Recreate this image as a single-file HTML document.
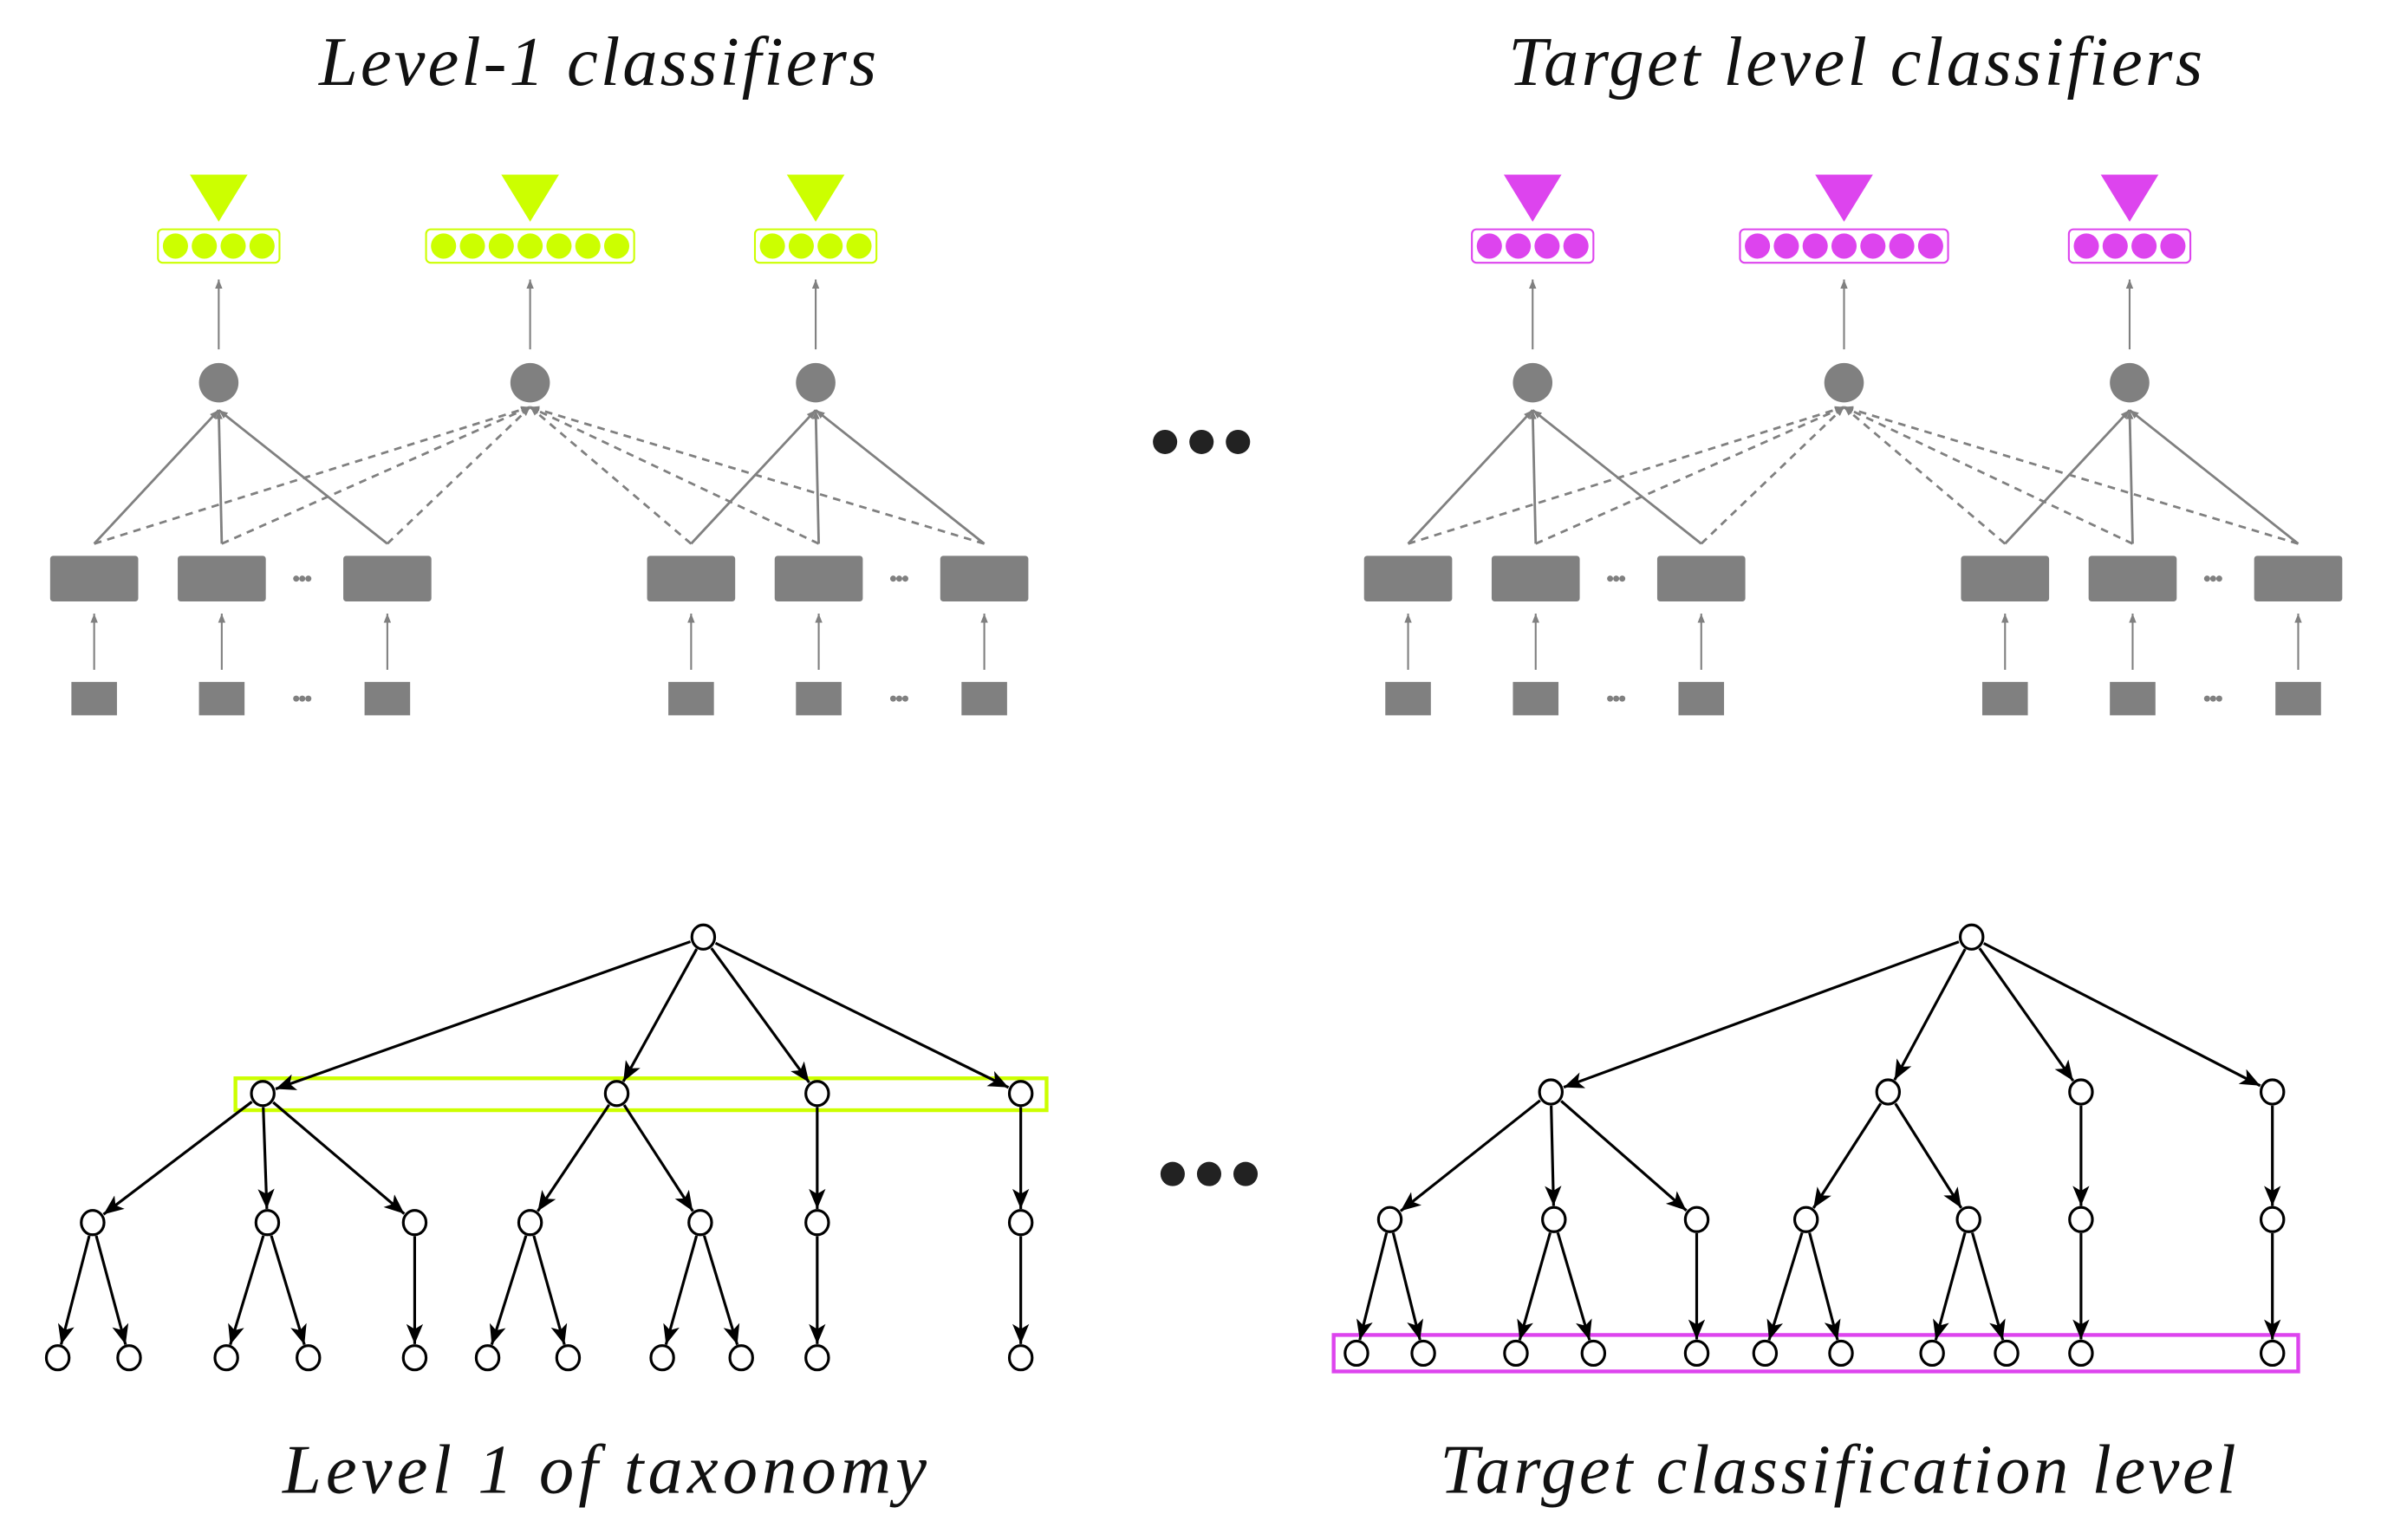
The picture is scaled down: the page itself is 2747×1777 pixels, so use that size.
<!DOCTYPE html>
<html><head><meta charset="utf-8">
<style>html,body{margin:0;padding:0;background:#fff;overflow:hidden}svg{display:block}
text{font-family:"Liberation Serif",serif;font-style:italic;fill:#111}</style></head>
<body>
<svg id="s" xmlns="http://www.w3.org/2000/svg" width="2747" height="1777" viewBox="0 0 1567.5 1014" preserveAspectRatio="none">
<defs>
<marker id="ga" viewBox="0 0 10 10" refX="10" refY="5" markerWidth="6" markerHeight="6" orient="auto" markerUnits="userSpaceOnUse"><path d="M0,1 L10,5 L0,9 z" fill="#808080"/></marker>
<marker id="ba" viewBox="0 0 12 10" refX="12" refY="5" markerWidth="14" markerHeight="11" orient="auto" markerUnits="userSpaceOnUse"><path d="M0,0 L12,5 L0,10 L3,5 z" fill="#000"/></marker>
</defs>
<text x="210" y="56" font-size="46" textLength="367" lengthAdjust="spacing">Level-1 classifiers</text>
<text x="993" y="56" font-size="46" textLength="457" lengthAdjust="spacing">Target level classifiers</text>
<text x="186" y="983" font-size="46" textLength="424" lengthAdjust="spacing">Level 1 of taxonomy</text>
<text x="948" y="983" font-size="46" textLength="524" lengthAdjust="spacing">Target classification level</text>
<g fill="#222"><circle cx="767" cy="291" r="8"/><circle cx="791" cy="291" r="8"/><circle cx="815" cy="291" r="8"/>
<circle cx="772" cy="773" r="8"/><circle cx="796" cy="773" r="8"/><circle cx="820" cy="773" r="8"/></g>
<g id="g"></g>
</svg>
<script>
var g=document.getElementById('g'),NS='http://www.w3.org/2000/svg';
function el(t,a){var e=document.createElementNS(NS,t);for(var k in a)e.setAttribute(k,a[k]);g.appendChild(e);return e;}
function clf(o,col){
 var tops=[[144,4],[349,7],[537,4]];
 tops.forEach(function(t){var x=t[0]+o,n=t[1];
  el('path',{d:'M'+(x-19)+',115 L'+(x+19)+',115 L'+x+',146 z',fill:col});
  var w=n*19+4;el('rect',{x:x-w/2,y:151,width:w,height:22,rx:3,fill:'#fff',stroke:col,'stroke-width':1.2});
  for(var i=0;i<n;i++)el('circle',{cx:x-(n-1)*9.5+i*19,cy:162,r:8.3,fill:col});
  el('line',{x1:x,y1:230,x2:x,y2:184,stroke:'#808080','stroke-width':1.2,'marker-end':'url(#ga)'});
  el('circle',{cx:x,cy:252,r:13,fill:'#808080'});
 });
 var rx=[62,146,255,455,539,648];
 rx.forEach(function(x){x+=o;
  el('rect',{x:x-29,y:366,width:58,height:30,rx:2,fill:'#808080'});
  el('rect',{x:x-15,y:449,width:30,height:22,fill:'#808080'});
  el('line',{x1:x,y1:441,x2:x,y2:404,stroke:'#808080','stroke-width':1.2,'marker-end':'url(#ga)'});
 });
 [199,592].forEach(function(x){x+=o;[ [381],[460] ].forEach(function(y){for(var i=-1;i<=1;i++)el('circle',{cx:x+i*4,cy:y[0],r:2,fill:'#808080'});});});
 rx.forEach(function(x,i){x+=o;
  var n=i<3?144+o:537+o;
  el('line',{x1:x,y1:358,x2:n,y2:270,stroke:'#808080','stroke-width':1.6,'marker-end':'url(#ga)'});
  el('line',{x1:x,y1:358,x2:349+o,y2:268,stroke:'#808080','stroke-width':1.6,'stroke-dasharray':'5,4','marker-end':'url(#ga)'});
 });
}
clf(0,'#ccff00');clf(865,'#dd44ee');
function tree(nodes,edges,hl,col){
 el('rect',{x:hl[0],y:hl[1],width:hl[2],height:hl[3],fill:'none',stroke:col,'stroke-width':2.5});
 edges.forEach(function(e){var a=nodes[e[0]],b=nodes[e[1]];var dx=b[0]-a[0],dy=b[1]-a[1],L=Math.sqrt(dx*dx+dy*dy),ux=dx/L,uy=dy/L,r=9;
  el('line',{x1:a[0]+ux*r,y1:a[1]+uy*r,x2:b[0]-ux*r,y2:b[1]-uy*r,stroke:'#000','stroke-width':1.8,'marker-end':'url(#ba)'});});
 for(var k in nodes){var p=nodes[k];el('ellipse',{cx:p[0],cy:p[1],rx:7.5,ry:8,fill:'#fff',stroke:'#000','stroke-width':1.8});}
}
function build(root,l1,l2,l3,y,hl,col){
 var N={r:[root,y[0]]},E=[];
 l1.forEach(function(x,i){N['a'+i]=[x,y[1]];E.push(['r','a'+i]);});
 var par2=[0,0,0,1,1,2,3];var par3=[0,0,1,1,2,3,3,4,4,5,6];
 l2.forEach(function(x,i){N['b'+i]=[x,y[2]];E.push(['a'+par2[i],'b'+i]);});
 l3.forEach(function(x,i){N['c'+i]=[x,y[3]];E.push(['b'+par3[i],'c'+i]);});
 tree(N,E,hl,col);
}
build(463,[173,406,538,672],[61,176,273,349,461,538,672],[38,85,149,203,273,321,374,436,488,538,672],[617,720,805,894],[155,710,534,21],'#ccff00');
build(1298,[1021,1243,1370,1496],[915,1023,1117,1189,1296,1370,1496],[893,937,998,1049,1117,1162,1212,1272,1321,1370,1496],[617,719,803,891],[878,879,635,24],'#dd44ee');
</script>
</body></html>
